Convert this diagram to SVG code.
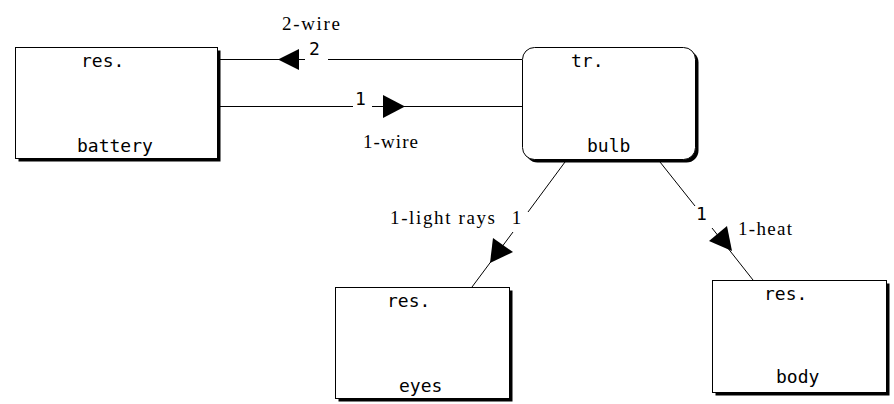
<svg xmlns="http://www.w3.org/2000/svg" width="894" height="404" viewBox="0 0 894 404">
<style>
.box{fill:#fff;stroke:#000;stroke-width:1}
.shadow{fill:#000}
.node{font-family:"DejaVu Sans Mono","Liberation Mono",monospace;font-size:18px;fill:#000}
.lbl{font-family:"Liberation Serif","DejaVu Serif",serif;font-size:19px;fill:#000}
.ln{stroke:#000;stroke-width:1;fill:none}
.arr{fill:#000}
</style>
<rect width="894" height="404" fill="#fff"/>
<g id="battery">
<rect class="shadow" x="18.5" y="50.5" width="202" height="111"/>
<rect class="box" x="15.5" y="47.5" width="202" height="111"/>
<text class="node" x="81" y="67">res.</text>
<text class="node" x="77" y="152">battery</text>
</g>
<g id="bulb">
<rect class="shadow" x="525.5" y="50.5" width="173" height="112" rx="12"/>
<rect class="box" x="522.5" y="47.5" width="173" height="112" rx="12"/>
<text class="node" x="571" y="67">tr.</text>
<text class="node" x="587" y="152">bulb</text>
</g>
<g id="eyes">
<rect class="shadow" x="338.5" y="290.5" width="174" height="111"/>
<rect class="box" x="335.5" y="287.5" width="174" height="111"/>
<text class="node" x="387" y="307">res.</text>
<text class="node" x="399" y="392">eyes</text>
</g>
<g id="body">
<rect class="shadow" x="715.5" y="283.5" width="174" height="112"/>
<rect class="box" x="712.5" y="280.5" width="174" height="112"/>
<text class="node" x="764" y="300">res.</text>
<text class="node" x="776" y="383">body</text>
</g>
<g id="connectors">
<path class="ln" d="M218 59.5H305M328 59.5H522"/>
<polygon class="arr" points="278,59.5 299,49 299,70"/>
<text class="node" x="309" y="55">2</text>
<text class="lbl" x="282" y="30" textLength="58" lengthAdjust="spacing">2-wire</text>
<path class="ln" d="M218 106.5H353M372 106.5H522"/>
<polygon class="arr" points="405,106.5 383,95 383,118"/>
<text class="node" x="360.5" y="105" text-anchor="middle">1</text>
<text class="lbl" x="363" y="148" textLength="55" lengthAdjust="spacing">1-wire</text>
<path class="ln" d="M565 162L528 212M513 232L472 287"/>
<polygon class="arr" points="490,263 513,252 493,238"/>
<text class="lbl" x="516.5" y="224" text-anchor="middle">1</text>
<text class="lbl" x="390" y="224" textLength="105" lengthAdjust="spacing">1-light rays</text>
<path class="ln" d="M660 162L695 206M712 228L753 280"/>
<polygon class="arr" points="732,251 727,226 709,241"/>
<text class="node" x="701.5" y="220" text-anchor="middle">1</text>
<text class="lbl" x="738" y="235" textLength="54" lengthAdjust="spacing">1-heat</text>
</g>
</svg>
